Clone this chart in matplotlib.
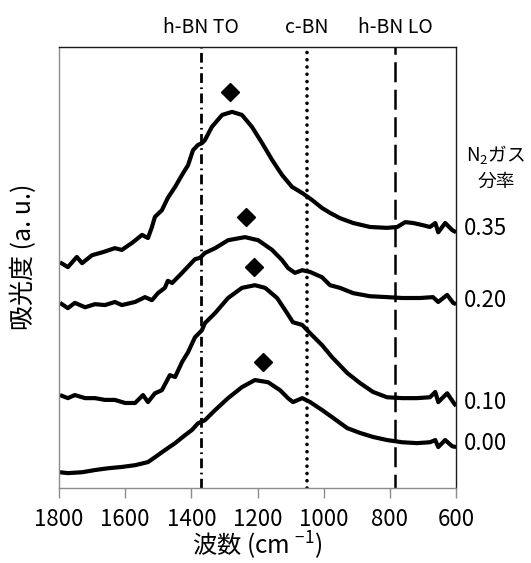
import matplotlib
matplotlib.use("Agg")
import matplotlib.pyplot as plt
from matplotlib import transforms

plt.rcParams['font.family'] = ['Noto Sans CJK JP', 'DejaVu Sans']
plt.rcParams['mathtext.fontset'] = 'custom'
plt.rcParams['mathtext.rm'] = 'Noto Sans CJK JP'

# FTIR absorbance spectra (stacked, a.u.) for each N2 gas fraction
wn_035 = [1797, 1773, 1746, 1730, 1700, 1667, 1631, 1610, 1579, 1549, 1531, 1519, 1510,
          1489, 1471, 1449, 1425, 1410, 1395, 1380, 1368, 1359, 1338, 1307, 1277, 1247,
          1217, 1186, 1156, 1126, 1096, 1065, 1035, 1005, 981, 951, 911, 860, 809, 778,
          754, 730, 700, 679, 663, 654, 633, 612, 600]
ab_035 = [5.12, 5.01, 5.24, 5.10, 5.28, 5.35, 5.44, 5.40, 5.56, 5.74, 5.67, 5.92, 6.15,
          6.30, 6.58, 6.83, 7.14, 7.32, 7.66, 7.78, 7.82, 7.89, 8.19, 8.46, 8.53, 8.46,
          8.19, 7.82, 7.44, 7.10, 6.83, 6.69, 6.53, 6.35, 6.24, 6.12, 6.01, 5.92, 5.90, 5.92,
          6.03, 6.01, 5.96, 5.92, 6.01, 5.80, 6.01, 5.85, 5.80]

wn_020 = [1797, 1773, 1752, 1721, 1691, 1661, 1631, 1610, 1570, 1540, 1519, 1501, 1480,
          1471, 1458, 1428, 1389, 1374, 1359, 1328, 1289, 1238, 1198, 1156, 1126, 1108,
          1087, 1065, 1041, 1005, 981, 951, 911, 860, 809, 763, 709, 670, 654, 627, 609, 600]
ab_020 = [4.20, 4.08, 4.20, 4.10, 4.17, 4.15, 4.22, 4.15, 4.22, 4.33, 4.26, 4.42, 4.54,
          4.70, 4.65, 4.88, 5.19, 5.22, 5.33, 5.44, 5.62, 5.69, 5.62, 5.40, 5.17, 4.99,
          4.88, 4.94, 4.90, 4.78, 4.60, 4.54, 4.42, 4.35, 4.33, 4.31, 4.31, 4.33, 4.22,
          4.38, 4.20, 4.17]

wn_010 = [1797, 1773, 1752, 1721, 1691, 1661, 1631, 1600, 1570, 1546, 1531, 1510, 1489,
          1465, 1449, 1428, 1410, 1389, 1368, 1359, 1328, 1289, 1247, 1208, 1177, 1141,
          1117, 1093, 1065, 1041, 1005, 975, 929, 890, 851, 809, 763, 718, 679, 663, 654,
          627, 609, 600]
ab_010 = [2.11, 2.04, 2.11, 2.04, 2.04, 2.00, 2.00, 1.93, 1.93, 2.11, 1.95, 2.15, 2.22,
          2.56, 2.52, 2.86, 3.08, 3.42, 3.58, 3.74, 3.97, 4.31, 4.54, 4.60, 4.54, 4.31,
          4.04, 3.76, 3.70, 3.51, 3.24, 2.97, 2.61, 2.38, 2.18, 2.06, 2.04, 2.04, 2.06,
          2.18, 1.95, 2.15, 1.95, 1.86]

wn_000 = [1797, 1773, 1730, 1691, 1652, 1610, 1570, 1531, 1510, 1480, 1449, 1419, 1398,
          1380, 1359, 1328, 1289, 1247, 1208, 1168, 1132, 1108, 1093, 1065, 1041, 1005,
          975, 929, 890, 851, 809, 763, 718, 679, 663, 654, 633, 612, 600]
ab_000 = [0.36, 0.34, 0.36, 0.41, 0.45, 0.48, 0.52, 0.59, 0.70, 0.86, 1.02, 1.20, 1.32,
          1.47, 1.54, 1.77, 2.04, 2.29, 2.45, 2.40, 2.22, 2.04, 1.95, 2.04, 1.95, 1.77,
          1.61, 1.36, 1.25, 1.16, 1.09, 1.04, 1.02, 1.04, 1.09, 0.93, 1.09, 0.95, 0.93]

fractions = ['0.35', '0.20', '0.10', '0.00']
spectra = [(wn_035, ab_035), (wn_020, ab_020), (wn_010, ab_010), (wn_000, ab_000)]

# peak markers (wavenumber, height)
peak_wn = [1283, 1234, 1211, 1183]
peak_ab = [8.98, 6.15, 5.01, 2.86]

# reference band positions
band_names = ['h-BN TO', 'c-BN', 'h-BN LO']
band_wn = [1371, 1050, 784]

x_ticks = [1800, 1600, 1400, 1200, 1000, 800, 600]

fig = plt.figure(figsize=(5.31, 5.63), dpi=100)
ax = fig.add_axes([0.111, 0.133, 0.748, 0.7835])

for wn, ab in spectra:
    ax.plot(wn, ab, color='black', lw=3.0, solid_joinstyle='round', solid_capstyle='butt')

ax.plot(peak_wn, peak_ab, linestyle='none', marker='D', markersize=9,
        color='black')

band_styles = [
    dict(linestyle=(0, (3.5, 1.6, 0.6, 1.6)), lw=2.0),
    dict(linestyle=(0, (0.01, 2.0)), lw=2.6, dash_capstyle='round'),
    dict(linestyle=(2.5, (8, 3)), lw=1.8),
]
for x, st in zip(band_wn, band_styles):
    ax.axvline(x, color='black', **st)

ax.set_xlim(1800, 600)
ax.set_ylim(0, 10)
ax.set_xticks(x_ticks)
ax.set_xticklabels([str(t) for t in x_ticks], fontsize=16)
ax.set_yticks([])
ax.tick_params(axis='x', direction='out', length=7, width=1, color='#8c8c8c', pad=7)

for side in ['left', 'bottom']:
    ax.spines[side].set_color('#8c8c8c')
    ax.spines[side].set_linewidth(1.0)
for side in ['top', 'right']:
    ax.spines[side].set_color('#1a1a1a')
    ax.spines[side].set_linewidth(1.0)

ax.set_xlabel('波数 (cm $^{\\mathregular{-1}}$)', fontsize=17.5)
ax.xaxis.label.set_va('center')
ax.xaxis.set_label_coords(0.5, -0.131)
ax.set_ylabel('吸光度 (a. u.)', fontsize=18)
ax.yaxis.label.set_va('center')
ax.yaxis.set_label_coords(-0.088, 0.524)

# band names above the plot
top_tr = transforms.blended_transform_factory(ax.transData, ax.transAxes)
for x, name in zip(band_wn, band_names):
    ax.text(x, 1.045, name, transform=top_tr, ha='center', va='center', fontsize=14)

# gas-fraction labels at the right end of each spectrum
right_tr = transforms.blended_transform_factory(ax.transAxes, ax.transData)
for frac, (wn, ab) in zip(fractions, spectra):
    ax.text(1.02, ab[-1] + 0.08, frac, transform=right_tr, ha='left', va='center',
            fontsize=16)
ax.text(1.1, 7.55, 'N$_{\\mathregular{2}}$ガス', transform=right_tr, ha='center',
        va='center', fontsize=13.5)
ax.text(1.1, 6.95, '分率', transform=right_tr, ha='center', va='center', fontsize=13.5)

fig.savefig('out.png', dpi=100)
